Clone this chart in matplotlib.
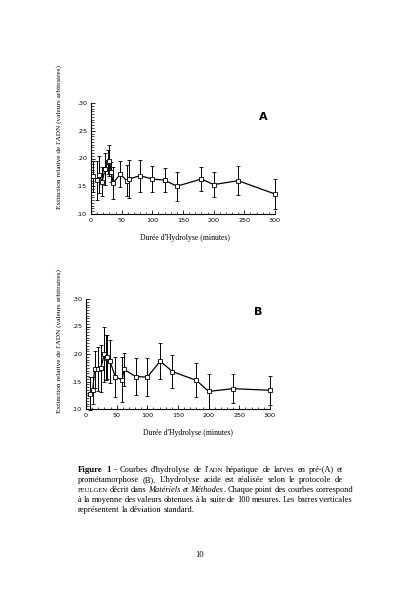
import matplotlib.pyplot as plt
from matplotlib.ticker import MultipleLocator, FuncFormatter

# courbe A (pre-metamorphose)
temps_a = [3, 10, 13, 18, 23, 28, 30, 33, 36, 48, 58, 62, 80, 100, 120, 140, 180, 200, 240, 300]
moy_a = [0.168, 0.161, 0.171, 0.158, 0.181, 0.194, 0.196, 0.176, 0.156, 0.172,
         0.160, 0.163, 0.169, 0.163, 0.161, 0.150, 0.163, 0.153, 0.160, 0.136]
et_a = [0.028, 0.035, 0.034, 0.026, 0.029, 0.022, 0.028, 0.018, 0.029, 0.023,
        0.028, 0.034, 0.029, 0.024, 0.022, 0.026, 0.022, 0.022, 0.026, 0.027]

# courbe B (prometamorphose)
temps_b = [6, 11, 14, 20, 24, 30, 33, 35, 39, 48, 59, 62, 81, 100, 121, 141, 180, 200, 240, 300]
moy_b = [0.128, 0.134, 0.172, 0.173, 0.174, 0.200, 0.193, 0.195, 0.187, 0.158,
         0.153, 0.172, 0.159, 0.158, 0.187, 0.168, 0.152, 0.132, 0.137, 0.134]
et_b = [0.030, 0.024, 0.034, 0.040, 0.043, 0.050, 0.041, 0.040, 0.039, 0.037,
        0.041, 0.030, 0.033, 0.034, 0.033, 0.030, 0.031, 0.032, 0.026, 0.026]

W, H = 395, 599
fig = plt.figure(figsize=(W / 100, H / 100), dpi=100)
serif = "Liberation Serif"


def panneau(rect, t, m, e, lettre, lettre_xy, xlab_xy, ylab_xy):
    l, b, r, tp = rect
    ax = fig.add_axes([l / W, 1 - b / H, (r - l) / W, (b - tp) / H])
    cont = ax.errorbar(t, m, yerr=e, color="black", lw=0.9, elinewidth=0.7, capsize=1.6,
                       capthick=0.7, marker="s", ms=2.6, mfc="white", mec="black", mew=0.6)
    for art in cont.get_children():
        art.set_clip_on(False)
    ax.set_xlim(0, 300)
    ax.set_ylim(0.10, 0.30)
    ax.set_xticks(range(0, 301, 50))
    ax.set_yticks([0.10, 0.15, 0.20, 0.25, 0.30])
    ax.yaxis.set_minor_locator(MultipleLocator(0.005))
    ax.xaxis.set_minor_locator(MultipleLocator(10))
    ax.yaxis.set_major_formatter(FuncFormatter(lambda v, p: f"{v:.2f}"[1:]))
    ax.tick_params(direction="in", labelsize=4.6, length=3, width=0.6, pad=3)
    ax.tick_params(which="minor", direction="in", length=1.8, width=0.5)
    for s in ["top", "right"]:
        ax.spines[s].set_visible(False)
    for s in ["left", "bottom"]:
        ax.spines[s].set_linewidth(0.8)
    ax.patch.set_alpha(0)
    fig.text(lettre_xy[0] / W, 1 - lettre_xy[1] / H, lettre, fontsize=8, fontweight="bold",
             ha="center", va="center")
    fig.text(xlab_xy[0] / W, 1 - xlab_xy[1] / H, "Durée d'Hydrolyse (minutes)",
             family=serif, fontsize=5.6, ha="center", va="center")
    fig.text(ylab_xy[0] / W, 1 - ylab_xy[1] / H,
             "Extinction relative de l'ADN (valeurs arbitraires)",
             family=serif, fontsize=5.2, rotation=90, ha="center", va="center")
    return ax


panneau((91, 214, 275, 103), temps_a, moy_a, et_a, "A", (263, 117), (185, 238), (59, 137))
panneau((86, 409, 270, 299), temps_b, moy_b, et_b, "B", (258, 312), (188, 433), (59, 341))

# legende de la figure, justifiee entre x0 et x1
fs = 6.0
x0, x1 = 78, 343
N = {}
G = dict(fontweight="bold")
I = dict(style="italic")
P = dict(small=True)

legende = [
    [[("Figure", G)], [("1", G)], [("-", N)], [("Courbes", N)], [("d'hydrolyse", N)], [("de", N)],
     [("l'", N), ("ADN", P)], [("hépatique", N)], [("de", N)], [("larves", N)], [("en", N)],
     [("pré-(A)", N)], [("et", N)]],
    [[(w, N)] for w in "prométamorphose (B). L'hydrolyse acide est réalisée selon le protocole de".split()],
    [[("FEULGEN", P)], [("décrit", N)], [("dans", N)], [("Matériels", I)], [("et", I)],
     [("Méthodes", I), (".", N)]]
    + [[(w, N)] for w in "Chaque point des courbes correspond".split()],
    [[(w, N)] for w in "à la moyenne des valeurs obtenues à la suite de 100 mesures. Les barres verticales".split()],
    [[(w, N)] for w in "représentent la déviation standard.".split()],
]
ys = [469, 479, 489, 499, 509]

rend = fig.canvas.get_renderer()


def creer(txt, st, x, y):
    props = dict(family=serif, fontsize=fs, va="baseline", ha="left")
    if st.get("small"):
        props["fontsize"] = fs - 1.2
    else:
        props.update(st)
    if txt in ("Figure", "1") and st.get("fontweight"):
        props["fontsize"] = fs + 0.3
    return fig.text(x / W, 1 - y / H, txt, **props)


for i, (mots, y) in enumerate(zip(legende, ys)):
    arts = []
    larg = []
    for mot in mots:
        parts = [creer(txt, st, 0, y + 3) for txt, st in mot]
        larg.append(sum(p.get_window_extent(rend).width for p in parts))
        arts.append(parts)
    sp = 2.0
    if i < len(legende) - 1:
        sp = max((x1 - x0 - sum(larg)) / (len(mots) - 1), 1.8)
    x = x0
    for parts in arts:
        for p in parts:
            p.set_x(x / W)
            x += p.get_window_extent(rend).width
        x += sp

fig.text(200 / W, 1 - 555 / H, "10", family=serif, fontsize=6.2, ha="center", va="center")

fig.savefig("out.png", dpi=100)
